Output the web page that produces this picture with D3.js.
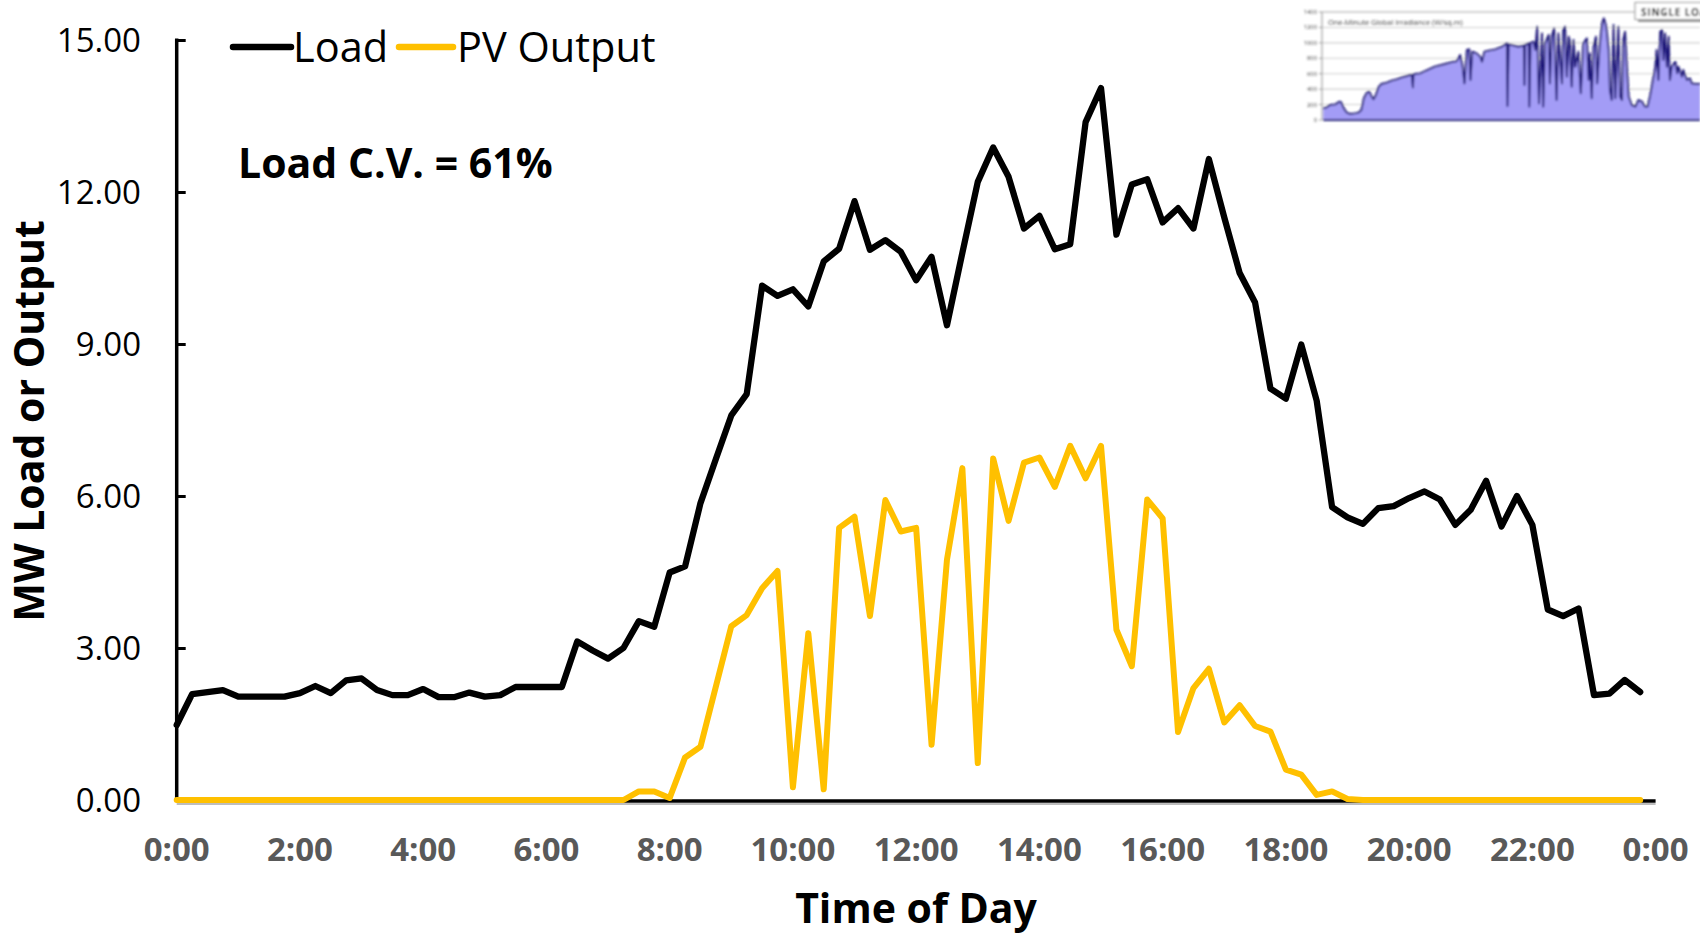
<!DOCTYPE html>
<html>
<head>
<meta charset="utf-8">
<script src="https://cdn.jsdelivr.net/npm/d3@7"></script>
<style>
  html, body { margin: 0; padding: 0; background: #ffffff; }
  svg { display: block; }
  text { font-family: 'Open Sans', 'Noto Sans', sans-serif; }
</style>
</head>
<body>
<svg id="chart" width="1700" height="934"></svg>
<script>
// 15-minute samples across one day (0:00 .. 23:45), MW
const stepHours = 0.25;
const load = [
  1.48, 2.09, 2.13, 2.17, 2.04, 2.04, 2.04, 2.04, 2.11, 2.25, 2.11, 2.36,
  2.40, 2.17, 2.07, 2.07, 2.19, 2.03, 2.03, 2.12, 2.04, 2.07, 2.23, 2.23,
  2.23, 2.23, 3.13, 2.95, 2.79, 3.00, 3.53, 3.42, 4.49, 4.61, 5.86, 6.73,
  7.59, 8.01, 10.15, 9.95, 10.08, 9.74, 10.63, 10.88, 11.82, 10.86, 11.05, 10.82,
  10.26, 10.72, 9.37, 10.80, 12.20, 12.88, 12.30, 11.28, 11.53, 10.87, 10.97, 13.38,
  14.05, 11.16, 12.15, 12.25, 11.40, 11.68, 11.28, 12.65, 11.50, 10.40, 9.82, 8.12,
  7.92, 8.99, 7.88, 5.78, 5.58, 5.45, 5.76, 5.80, 5.96, 6.09, 5.93, 5.43,
  5.73, 6.30, 5.40, 6.00, 5.43, 3.76, 3.63, 3.78, 2.07, 2.10, 2.37, 2.13
];
const pvOutput = [
  0, 0, 0, 0, 0, 0, 0, 0, 0, 0, 0, 0,
  0, 0, 0, 0, 0, 0, 0, 0, 0, 0, 0, 0,
  0, 0, 0, 0, 0, 0, 0.17, 0.17, 0.04, 0.84, 1.05, 2.24,
  3.43, 3.65, 4.18, 4.52, 0.25, 3.29, 0.21, 5.37, 5.59, 3.63, 5.92, 5.30,
  5.37, 1.09, 4.74, 6.55, 0.73, 6.74, 5.51, 6.66, 6.76, 6.18, 6.99, 6.35,
  6.99, 3.36, 2.64, 5.93, 5.56, 1.34, 2.21, 2.59, 1.53, 1.87, 1.46, 1.35,
  0.60, 0.50, 0.10, 0.17, 0.02, 0, 0, 0, 0, 0, 0, 0,
  0, 0, 0, 0, 0, 0, 0, 0, 0, 0, 0, 0
];
const seriesNames = ["Load", "PV Output"];
const yTicks = [0, 3, 6, 9, 12, 15];
const xTicks = [0, 2, 4, 6, 8, 10, 12, 14, 16, 18, 20, 22, 24];
const yTitle = "MW Load or Output";
const xTitle = "Time of Day";
const cvLabel = "Load C.V. = 61%";

// Small irradiance panel: minute of day, W/m²
const insetMinutes = [
  362, 368, 373, 382, 389, 392, 396, 401, 406, 414, 420, 425, 429, 434, 438, 442,
  445, 449, 453, 458, 467, 475, 483, 492, 500, 505, 508, 510, 511, 513, 522, 530,
  546, 563, 577, 582, 588, 592, 595, 599, 603, 605, 608, 615, 621, 624, 628, 635,
  646, 657, 665, 666, 668, 684, 693, 694, 695, 701, 702, 704, 709, 712, 715, 718,
  723, 725, 728, 734, 736, 739, 743, 747, 750, 756, 758, 761, 764, 767, 769, 772,
  775, 778, 783, 787, 791, 797, 800, 802, 805, 808, 812, 814, 818, 822, 825, 829,
  833, 835, 838, 841, 844, 846, 849, 852, 855, 857, 860, 863, 866, 871, 877, 882,
  888, 893, 897, 901, 906, 910, 912, 915, 918, 921, 923, 926, 929, 932, 934, 937,
  943, 946, 948, 954, 956, 962, 967, 970, 976, 984
];
const insetIrradiance = [
  151, 164, 194, 203, 238, 225, 151, 95, 78, 86, 95, 130, 281, 354, 367, 302,
  268, 324, 423, 467, 484, 510, 527, 553, 570, 583, 585, 423, 590, 596, 605, 635,
  691, 726, 756, 760, 842, 691, 475, 907, 916, 518, 886, 864, 821, 756, 886, 899,
  916, 950, 994, 181, 980, 950, 965, 454, 972, 994, 173, 1000, 1015, 907, 1210, 216,
  1123, 173, 994, 1102, 475, 1080, 1188, 259, 1123, 475, 1166, 1210, 562, 1080, 1015, 432,
  1037, 691, 886, 346, 994, 1058, 518, 864, 281, 950, 1080, 475, 950, 1253, 1318, 1210,
  907, 389, 259, 1231, 281, 691, 1210, 302, 259, 1037, 1145, 691, 302, 194, 173, 259,
  238, 173, 173, 302, 518, 691, 907, 518, 1145, 1166, 778, 1123, 691, 1080, 518, 691,
  756, 605, 691, 562, 648, 518, 540, 475, 467, 467
];
const insetTicks = [0, 200, 400, 600, 800, 1000, 1200, 1400];
const insetTitle = "One-Minute Global Irradiance (W/sq.m)";
const insetBadge = "SINGLE LOAD";

const colors = { load: "#000000", pv: "#FFC000" };

const svg = d3.select("#chart");
const W = 1700, H = 934;
const margin = { left: 176.7, right: 44.4, top: 40, bottom: 134 };

const x = d3.scaleLinear().domain([0, 24]).range([margin.left, W - margin.right]);
const y = d3.scaleLinear().domain([0, 15]).range([H - margin.bottom, margin.top]);

// ---------- irradiance panel (top right) ----------
const defs = svg.append("defs");
defs.append("filter").attr("id", "soft")
  .attr("x", "-5%").attr("y", "-10%").attr("width", "110%").attr("height", "120%")
  .append("feGaussianBlur").attr("stdDeviation", 0.85);

// the panel is a nested viewport that ends at the page's right edge
const panel = svg.append("svg")
  .attr("x", 1290).attr("y", 0).attr("width", 410).attr("height", 126)
  .attr("viewBox", "1290 0 410 126")
  .attr("overflow", "hidden");

const ix = d3.scaleLinear().domain([360, 1080]).range([1322, 1758.4]);
const iy = d3.scaleLinear().domain([0, 1400]).range([120, 12]);

const inset = panel.append("g").attr("filter", "url(#soft)");

inset.append("g").selectAll("line").data(insetTicks.filter(d => d > 0)).join("line")
  .attr("x1", ix.range()[0]).attr("x2", 1700)
  .attr("y1", d => iy(d)).attr("y2", d => iy(d))
  .attr("stroke", d => d === 1400 ? "#a8a8a8" : "#cfcfcf").attr("stroke-width", 1.1);

inset.append("line")
  .attr("x1", ix.range()[0]).attr("x2", ix.range()[0])
  .attr("y1", iy(1400)).attr("y2", iy(0))
  .attr("stroke", "#9a9a9a").attr("stroke-width", 1.1);

inset.append("g").selectAll("line").data(insetTicks).join("line")
  .attr("x1", ix.range()[0] - 3).attr("x2", ix.range()[0])
  .attr("y1", d => iy(d)).attr("y2", d => iy(d))
  .attr("stroke", "#9a9a9a").attr("stroke-width", 1);

inset.append("g").selectAll("text").data(insetTicks).join("text")
  .attr("x", ix.range()[0] - 5).attr("y", d => iy(d))
  .attr("dy", "0.35em").attr("text-anchor", "end")
  .attr("font-size", 5.8).attr("fill", "#444")
  .text(d => d);

const insetPts = insetMinutes.map((m, i) => [m, insetIrradiance[i]]);
inset.append("path").datum(insetPts)
  .attr("fill", "#a39cf6")
  .attr("d", d3.area().x(d => ix(d[0])).y0(iy(0)).y1(d => iy(d[1])));
inset.append("path").datum(insetPts)
  .attr("fill", "none").attr("stroke", "#1d1878").attr("stroke-width", 1.9)
  .attr("stroke-linejoin", "round")
  .attr("d", d3.line().x(d => ix(d[0])).y(d => iy(d[1])));
inset.append("line")
  .attr("x1", ix(insetMinutes[0])).attr("x2", 1700)
  .attr("y1", iy(0)).attr("y2", iy(0))
  .attr("stroke", "#1d1878").attr("stroke-width", 1.8);

inset.append("text")
  .attr("x", 1328).attr("y", 24.5)
  .attr("font-size", 7.4).attr("fill", "#444")
  .text(insetTitle);

const badge = inset.append("g");
badge.append("rect").attr("x", 1638).attr("y", 5).attr("width", 90).attr("height", 17)
  .attr("fill", "#9a9a9a");
badge.append("rect").attr("x", 1635).attr("y", 2.5).attr("width", 90).attr("height", 17)
  .attr("fill", "#ffffff").attr("stroke", "#8a8a8a").attr("stroke-width", 1);
badge.append("text").attr("x", 1641).attr("y", 15.5)
  .attr("font-size", 10).attr("font-weight", 700).attr("fill", "#222")
  .attr("letter-spacing", 0.8)
  .text(insetBadge);

// ---------- main chart ----------
const yAxis = d3.axisRight(y).tickValues(yTicks).tickSize(9).tickFormat("");
svg.append("g").attr("transform", `translate(${x(0)},0)`).call(yAxis)
  .call(g => g.select(".domain").remove())
  .call(g => g.selectAll(".tick line").attr("stroke", "#000").attr("stroke-width", 3));

svg.append("line")
  .attr("x1", x(0)).attr("x2", x(0))
  .attr("y1", y(15) - 1.5).attr("y2", y(0) + 1.5)
  .attr("stroke", "#000").attr("stroke-width", 3.5);

svg.append("g").selectAll("text").data(yTicks).join("text")
  .attr("x", 141).attr("y", d => y(d)).attr("dy", "0.36em")
  .attr("text-anchor", "end").attr("font-size", 33).attr("fill", "#000")
  .text(d3.format(".2f"));

// x axis baseline
svg.append("line")
  .attr("x1", x(0)).attr("x2", x(24))
  .attr("y1", y(0) + 4).attr("y2", y(0) + 4)
  .attr("stroke", "#bdbdbd").attr("stroke-width", 2);
svg.append("line")
  .attr("x1", x(0)).attr("x2", x(24))
  .attr("y1", y(0) + 1).attr("y2", y(0) + 1)
  .attr("stroke", "#000").attr("stroke-width", 3.5);

svg.append("g").selectAll("text").data(xTicks).join("text")
  .attr("x", d => x(d)).attr("y", 849).attr("dy", "0.36em")
  .attr("text-anchor", "middle").attr("font-size", 33).attr("font-weight", 700)
  .attr("fill", "#595959")
  .text(d => `${d % 24}:00`);

const line = d3.line()
  .x((d, i) => x(i * stepHours))
  .y(d => y(d));

svg.append("path").datum(load)
  .attr("fill", "none").attr("stroke", colors.load).attr("stroke-width", 6.3)
  .attr("stroke-linejoin", "round").attr("stroke-linecap", "round")
  .attr("d", line);

svg.append("path").datum(pvOutput)
  .attr("fill", "none").attr("stroke", colors.pv).attr("stroke-width", 6)
  .attr("stroke-linejoin", "round").attr("stroke-linecap", "round")
  .attr("d", line);

// axis titles
svg.append("text")
  .attr("x", 916).attr("y", 908).attr("dy", "0.36em")
  .attr("text-anchor", "middle").attr("font-size", 41).attr("font-weight", 700)
  .attr("fill", "#000").text(xTitle);

svg.append("text")
  .attr("transform", "translate(29,421) rotate(-90)")
  .attr("dy", "0.36em")
  .attr("text-anchor", "middle").attr("font-size", 41).attr("font-weight", 700)
  .attr("fill", "#000").text(yTitle);

// legend
const legendItems = [
  { name: seriesNames[0], color: colors.load, x0: 233, x1: 291, tx: 293 },
  { name: seriesNames[1], color: colors.pv, x0: 399, x1: 453, tx: 457 }
];
const legend = svg.append("g");
legend.selectAll("line").data(legendItems).join("line")
  .attr("x1", d => d.x0).attr("x2", d => d.x1)
  .attr("y1", 47).attr("y2", 47)
  .attr("stroke", d => d.color).attr("stroke-width", 6.5).attr("stroke-linecap", "round");
legend.selectAll("text").data(legendItems).join("text")
  .attr("x", d => d.tx).attr("y", 47).attr("dy", "0.36em")
  .attr("font-size", 41.5).attr("fill", "#000")
  .text(d => d.name);

svg.append("text")
  .attr("x", 238).attr("y", 163).attr("dy", "0.36em")
  .attr("font-size", 41).attr("font-weight", 700).attr("fill", "#000")
  .text(cvLabel);
</script>
</body>
</html>
